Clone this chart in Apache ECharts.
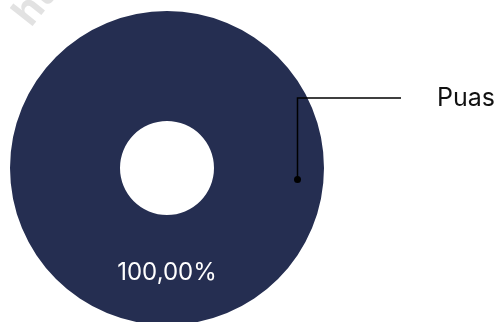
<!DOCTYPE html>
<html>
<head>
<meta charset="utf-8">
<style>
  html, body { margin: 0; padding: 0; background: #fff; }
  #chart { width: 500px; height: 322px; }
</style>
<script src="https://cdn.jsdelivr.net/npm/echarts@6/dist/echarts.min.js"></script>
</head>
<body>
<div id="chart"></div>
<script>
var categories = ['Puas'];
var values = [1];

var navy = '#252e51';
var font = 'Inter';

// layout of the ring
var cx = 167, cy = 168;
var rIn = 47, rOut = 157;
var pointerR = 131, pointerAngle = -5; // degrees
var labelX = 437, labelY = 98;

var data = categories.map(function(c, i) { return { name: c, value: values[i] }; });

var a = pointerAngle * Math.PI / 180;
var px = cx + pointerR * Math.cos(a), py = cy - pointerR * Math.sin(a);

var chart = echarts.init(document.getElementById('chart'), null, { renderer: 'canvas' });
chart.setOption({
  animation: false,
  graphic: [
    {
      type: 'text',
      x: 6, y: 8,
      rotation: 0.9,
      style: { text: 'https://', fill: '#e2e2e2', font: 'bold 40px ' + font, textVerticalAlign: 'top' }
    },
    {
      type: 'polyline',
      z: 100,
      shape: { points: [[px, py], [px, labelY], [labelX - 36, labelY]] },
      style: { stroke: '#000', lineWidth: 1.5, fill: null }
    },
    {
      type: 'circle',
      z: 100,
      shape: { cx: px, cy: py, r: 3.5 },
      style: { fill: '#000' }
    }
  ],
  series: [
    {
      type: 'pie',
      center: [cx, cy],
      radius: [rIn, rOut],
      data: data,
      silent: true,
      itemStyle: { color: navy },
      label: {
        show: true,
        position: 'inside',
        color: '#fff',
        fontFamily: font,
        fontSize: 24,
        formatter: function(p) { return p.percent.toFixed(2).replace('.', ',') + '%'; }
      },
      labelLine: { show: false }
    },
    {
      type: 'pie',
      center: [cx, cy],
      radius: [0, pointerR],
      startAngle: 180 + pointerAngle,
      data: data,
      silent: true,
      itemStyle: { color: 'transparent' },
      label: {
        show: true,
        position: 'outside',
        color: '#111',
        fontFamily: font,
        fontSize: 25,
        formatter: '{b}'
      },
      labelLine: { show: false },
      labelLayout: function() {
        return { x: labelX, y: labelY, align: 'left', verticalAlign: 'middle' };
      }
    }
  ]
});
</script>
</body>
</html>
